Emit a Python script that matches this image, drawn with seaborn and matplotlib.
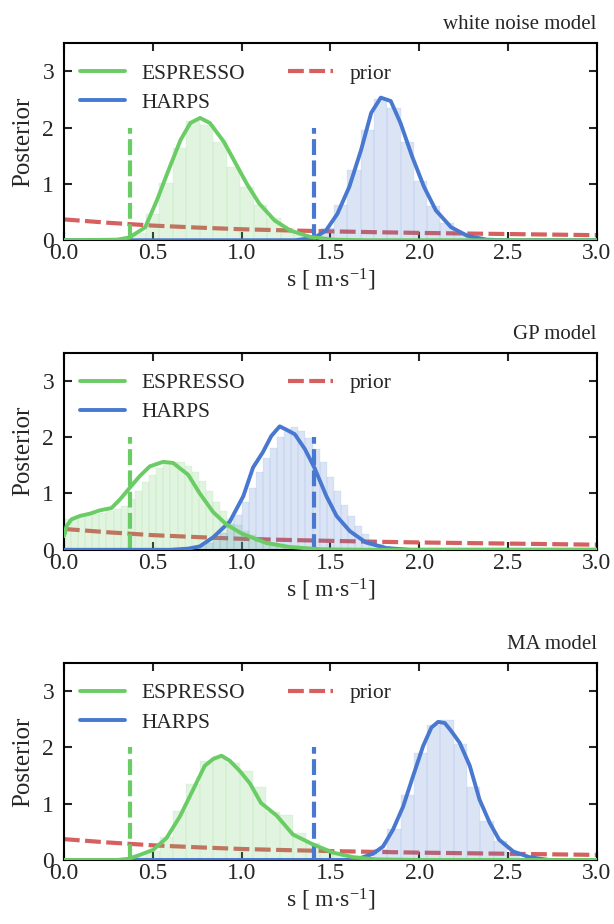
import numpy as np
import matplotlib
matplotlib.use("Agg")
import matplotlib.pyplot as plt
import seaborn as sns

# ---- data ----
panel_titles = ["white noise model", "GP model", "MA model"]
espresso_err = 0.37
harps_err = 1.41

prior_x = [0.0, 0.25, 0.5, 0.75, 1.0, 1.25, 1.5, 1.75, 2.0, 2.25, 2.5, 2.75, 3.0]
prior_y = [0.37, 0.31, 0.26, 0.225, 0.195, 0.175, 0.158, 0.143, 0.13, 0.12, 0.11, 0.10, 0.09]

# white noise model
wn_esp_x = [0.0, 0.3, 0.37, 0.458, 0.524, 0.59, 0.657, 0.712, 0.767, 0.822, 0.90, 0.966,
            1.03, 1.10, 1.187, 1.276, 1.386, 1.52, 1.7, 3.0]
wn_esp_y = [0.0, 0.01, 0.05, 0.23, 0.71, 1.25, 1.78, 2.08, 2.17, 2.08, 1.75, 1.37,
            1.0, 0.65, 0.35, 0.17, 0.06, 0.01, 0.0, 0.0]
wn_harps_x = [0.0, 1.3, 1.408, 1.475, 1.54, 1.607, 1.673, 1.73, 1.784, 1.84, 1.895, 1.96,
              2.027, 2.094, 2.18, 2.27, 2.38, 2.5, 3.0]
wn_harps_y = [0.0, 0.0, 0.04, 0.17, 0.47, 0.95, 1.6, 2.26, 2.53, 2.47, 2.08, 1.49,
              0.95, 0.53, 0.23, 0.08, 0.01, 0.0, 0.0]
wn_esp_bins = (0.384, 0.076)
wn_esp_h = [0.12, 0.46, 1.02, 1.63, 2.12, 2.05, 1.74, 1.3, 0.95, 0.62, 0.4, 0.22, 0.1, 0.04, 0.01]
wn_harps_bins = (1.37, 0.075)
wn_harps_h = [0.05, 0.22, 0.62, 1.25, 1.95, 2.5, 2.35, 1.75, 1.05, 0.6, 0.3, 0.12, 0.04, 0.01]

# GP model
gp_esp_x = [0.0, 0.006, 0.015, 0.043, 0.09, 0.146, 0.203, 0.268, 0.315, 0.371, 0.428, 0.484,
            0.559, 0.615, 0.70, 0.765, 0.84, 0.915, 1.0, 1.14, 1.27, 1.44, 1.7, 3.0]
gp_esp_y = [0.24, 0.3, 0.42, 0.54, 0.6, 0.64, 0.70, 0.74, 0.89, 1.10, 1.31, 1.48,
            1.56, 1.54, 1.33, 1.0, 0.67, 0.45, 0.29, 0.12, 0.05, 0.01, 0.0, 0.0]
gp_harps_x = [0.0, 0.6, 0.70, 0.765, 0.84, 0.934, 1.01, 1.065, 1.12, 1.168, 1.215, 1.253,
              1.30, 1.356, 1.41, 1.478, 1.535, 1.61, 1.70, 1.815, 1.95, 3.0]
gp_harps_y = [0.0, 0.0, 0.02, 0.06, 0.22, 0.5, 0.95, 1.46, 1.73, 2.02, 2.19, 2.13,
              2.05, 1.79, 1.46, 0.95, 0.6, 0.33, 0.13, 0.03, 0.0, 0.0]
gp_esp_bins = (0.0, 0.04)
gp_esp_h = [0.55, 0.58, 0.6, 0.62, 0.64, 0.66, 0.69, 0.72, 0.78, 0.9, 1.05, 1.2, 1.33, 1.45,
            1.52, 1.56, 1.55, 1.48, 1.38, 1.22, 1.05, 0.85, 0.68, 0.55, 0.44, 0.34, 0.27, 0.21,
            0.16, 0.12, 0.09, 0.07, 0.05, 0.04, 0.03, 0.02, 0.01]
gp_harps_bins = (0.68, 0.04)
gp_harps_h = [0.02, 0.04, 0.07, 0.12, 0.2, 0.3, 0.45, 0.62, 0.85, 1.1, 1.38, 1.62, 1.8, 2.0,
              2.15, 2.17, 2.1, 1.98, 1.78, 1.55, 1.3, 1.05, 0.8, 0.6, 0.42, 0.28, 0.18, 0.11,
              0.06, 0.03, 0.01]

# MA model
ma_esp_x = [0.0, 0.3, 0.362, 0.428, 0.503, 0.578, 0.653, 0.728, 0.793, 0.84, 0.887, 0.934,
            0.99, 1.047, 1.11, 1.197, 1.29, 1.40, 1.515, 1.628, 1.76, 2.0, 3.0]
ma_esp_y = [0.0, 0.0, 0.02, 0.09, 0.18, 0.39, 0.77, 1.25, 1.67, 1.79, 1.85, 1.76,
            1.58, 1.36, 1.01, 0.79, 0.45, 0.28, 0.13, 0.05, 0.01, 0.0, 0.0]
ma_harps_x = [0.0, 1.6, 1.666, 1.74, 1.797, 1.853, 1.91, 1.966, 2.022, 2.069, 2.107, 2.144,
              2.18, 2.228, 2.285, 2.34, 2.397, 2.45, 2.53, 2.62, 2.73, 3.0]
ma_harps_y = [0.0, 0.0, 0.03, 0.11, 0.24, 0.54, 0.95, 1.49, 2.02, 2.35, 2.45, 2.43,
              2.29, 2.08, 1.67, 1.07, 0.66, 0.36, 0.15, 0.05, 0.0, 0.0]
ma_esp_bins = (0.39, 0.075)
ma_esp_h = [0.06, 0.16, 0.4, 0.86, 1.34, 1.75, 1.85, 1.72, 1.58, 1.3, 0.85, 0.8, 0.48, 0.3,
            0.2, 0.1, 0.04, 0.01]
ma_harps_bins = (1.67, 0.075)
ma_harps_h = [0.05, 0.2, 0.55, 1.15, 1.9, 2.4, 2.48, 2.05, 1.3, 0.7, 0.33, 0.13, 0.04]

panels = [
    (wn_esp_x, wn_esp_y, wn_esp_bins, wn_esp_h, wn_harps_x, wn_harps_y, wn_harps_bins, wn_harps_h),
    (gp_esp_x, gp_esp_y, gp_esp_bins, gp_esp_h, gp_harps_x, gp_harps_y, gp_harps_bins, gp_harps_h),
    (ma_esp_x, ma_esp_y, ma_esp_bins, ma_esp_h, ma_harps_x, ma_harps_y, ma_harps_bins, ma_harps_h),
]

# ---- style ----
sns.set_style("ticks")
muted = sns.color_palette("muted")
c_blue, c_green, c_red = muted[0], muted[2], muted[3]

plt.rcParams["font.family"] = ["Liberation Serif", "DejaVu Serif"]
plt.rcParams["mathtext.fontset"] = "custom"
plt.rcParams["mathtext.rm"] = "Liberation Serif"
plt.rcParams["mathtext.it"] = "Liberation Serif:italic"
plt.rcParams["axes.linewidth"] = 1.5
plt.rcParams["axes.edgecolor"] = "black"

dash = (0, (3.8, 1.3))

fig = plt.figure(figsize=(6.14, 9.24), dpi=100)
bottoms = [0.740, 0.405, 0.0693]
height = 0.2135

for i, (ex, ey, eb, eh, hx, hy, hb, hh) in enumerate(panels):
    ax = fig.add_axes([0.104, bottoms[i], 0.868, height])

    # prior
    sns.lineplot(x=prior_x, y=prior_y, ax=ax, color=c_red, lw=3, linestyle=dash,
                 label="prior", zorder=1)

    # histogram bars
    e_left = eb[0] + eb[1] * np.arange(len(eh))
    h_left = hb[0] + hb[1] * np.arange(len(hh))
    ax.bar(e_left, eh, width=eb[1], align="edge", color=c_green, alpha=0.2,
           edgecolor=c_green, linewidth=0.3, zorder=2)
    ax.bar(h_left, hh, width=hb[1], align="edge", color=c_blue, alpha=0.2,
           edgecolor=c_blue, linewidth=0.3, zorder=2)

    # posterior curves
    sns.lineplot(x=hx, y=hy, ax=ax, color=c_blue, lw=2.8, label="HARPS", zorder=4)
    sns.lineplot(x=ex, y=ey, ax=ax, color=c_green, lw=2.8, label="ESPRESSO", zorder=4)

    # instrument errors
    ax.vlines(espresso_err, 0, 2, color=c_green, lw=3, linestyles=dash, zorder=3)
    ax.vlines(harps_err, 0, 2, color=c_blue, lw=3, linestyles=dash, zorder=3)

    ax.set_xlim(0, 3)
    ax.set_ylim(0, 3.5)
    ax.set_xticks([0, 0.5, 1.0, 1.5, 2.0, 2.5, 3.0])
    ax.set_yticks([0, 1, 2, 3])
    ax.tick_params(direction="in", top=True, right=True, length=6, width=1.5,
                   labelsize=17)
    ax.tick_params(axis="x", pad=2)
    ax.tick_params(axis="y", pad=7)
    ax.set_xlabel(r"s [ m$\cdot$s$^{-1}$]", fontsize=17, labelpad=2)
    ax.set_ylabel("Posterior", fontsize=18, labelpad=6)
    ax.set_title(panel_titles[i], loc="right", fontsize=15, pad=10)

    handles, labels = ax.get_legend_handles_labels()
    order = [labels.index("ESPRESSO"), labels.index("HARPS"), labels.index("prior")]
    ax.legend([handles[k] for k in order], [labels[k] for k in order], ncol=2,
              loc="upper left", bbox_to_anchor=(0.03, 0.895), frameon=False,
              fontsize=15.5, handlelength=2.1, handletextpad=0.75, columnspacing=2.0,
              labelspacing=0.42, borderpad=0, borderaxespad=0)

fig.savefig("out.png", dpi=100)
